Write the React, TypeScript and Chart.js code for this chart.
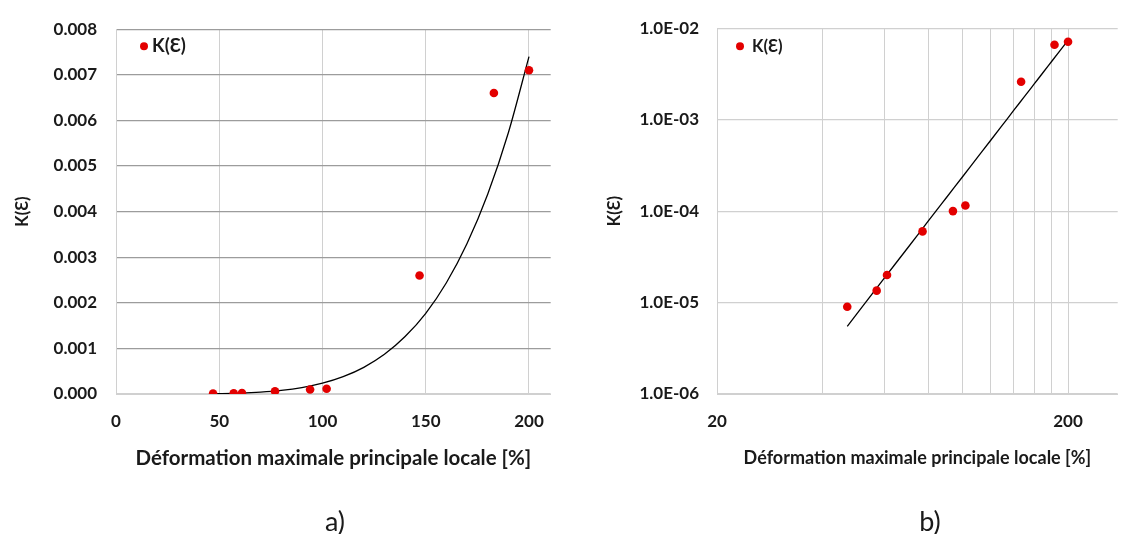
import React, { useEffect, useRef } from 'react';
import { Chart, registerables } from 'chart.js';

Chart.register(...registerables);

// ---- data ----
const deformation = [47, 57, 61, 77, 94, 102, 147, 183, 200];
const kValues = [9.0e-6, 1.35e-5, 2.0e-5, 6.0e-5, 1.0e-4, 1.15e-4, 2.6e-3, 6.6e-3, 7.1e-3];

// power-law trend line
const trendDeformation = [47, 60, 70, 80, 90, 100, 110, 120, 130, 140, 150, 160, 170, 180, 190, 200];
const trendK = [5.5e-6, 1.86e-5, 4.0e-5, 7.8e-5, 1.4e-4, 2.36e-4, 3.79e-4, 5.84e-4, 8.7e-4, 1.26e-3, 1.77e-3, 2.44e-3, 3.3e-3, 4.38e-3, 5.73e-3, 7.4e-3];

const seriesLabel = 'K(Ɛ)';
const yTitleText = 'K(Ɛ)';
const xTitleText = 'Déformation maximale principale locale [%]';

const linearXTicks = [0, 50, 100, 150, 200];
const linearYTicks = [0, 0.001, 0.002, 0.003, 0.004, 0.005, 0.006, 0.007, 0.008];
const logXGrid = [20, 40, 60, 80, 100, 120, 140, 160, 180, 200];
const logXLabels = [20, 200];
const logYTicks = [1e-6, 1e-5, 1e-4, 1e-3, 1e-2];
const panelLabels = ['a)', 'b)'];

const FONT = 'Lato, "Open Sans", "Noto Sans", sans-serif';
const TEXT = '#1a1a1a';
const RED = '#e30000';
const LIGHT = '#d0d0d0';
const DARK = '#9c9c9c';

Chart.defaults.font.family = FONT;

function insideLegend(dotDx: number, dotDy: number, textDx: number, size: number) {
  return {
    id: 'insideLegend',
    afterDraw(chart: any) {
      const ds = chart.data.datasets[0];
      const { ctx, chartArea } = chart;
      ctx.save();
      ctx.fillStyle = ds.pointBackgroundColor;
      ctx.beginPath();
      ctx.arc(chartArea.left + dotDx, chartArea.top + dotDy, 4, 0, Math.PI * 2);
      ctx.fill();
      ctx.fillStyle = TEXT;
      ctx.font = `bold ${size}px ${FONT}`;
      ctx.textAlign = 'left';
      ctx.textBaseline = 'middle';
      ctx.fillText(ds.label, chartArea.left + textDx, chartArea.top + dotDy);
      ctx.restore();
    },
  };
}

function pointsDataset() {
  return {
    label: seriesLabel,
    data: deformation.map((x, i) => ({ x, y: kValues[i] })),
    showLine: false,
    pointRadius: 4.3,
    pointBackgroundColor: RED,
    pointBorderWidth: 0,
    pointBorderColor: RED,
  };
}

function trendDataset() {
  return {
    label: 'trend',
    data: trendDeformation.map((x, i) => ({ x, y: trendK[i] })),
    showLine: true,
    pointRadius: 0,
    borderColor: '#000000',
    borderWidth: 1.3,
    tension: 0.4,
    cubicInterpolationMode: 'monotone',
  };
}

function linearConfig(): any {
  return {
    type: 'scatter',
    data: { datasets: [pointsDataset(), trendDataset()] },
    plugins: [insideLegend(28, 17, 36, 18.5)],
    options: {
      responsive: false,
      animation: false,
      events: [],
      layout: { padding: { left: 0, top: 24, right: 3, bottom: 0 } },
      plugins: { legend: { display: false }, tooltip: { enabled: false }, title: { display: false } },
      scales: {
        x: {
          type: 'linear',
          min: 0,
          max: 210.5,
          afterBuildTicks: (s: any) => { s.ticks = linearXTicks.map((v) => ({ value: v })); },
          afterFit: (s: any) => { s.height = 140; },
          grid: { color: LIGHT, lineWidth: 1, drawTicks: false },
          border: { color: LIGHT, width: 1 },
          ticks: { autoSkip: false, maxRotation: 0, padding: 17, color: TEXT, font: { size: 17, weight: 'bold' }, callback: (v: any) => String(v) },
          title: { display: true, text: xTitleText, color: TEXT, font: { size: 20.5, weight: 'bold' }, padding: { top: 0, bottom: 63 } },
        },
        y: {
          type: 'linear',
          min: 0,
          max: 0.008,
          afterBuildTicks: (s: any) => { s.ticks = linearYTicks.map((v) => ({ value: v })); },
          afterFit: (s: any) => { s.width = 116; },
          grid: { color: (c: any) => (c.tick && c.tick.value === 0 ? LIGHT : DARK), lineWidth: 1.3, drawTicks: false },
          border: { color: LIGHT, width: 1 },
          ticks: { autoSkip: false, padding: 19, color: TEXT, font: { size: 17, weight: 'bold' }, callback: (v: any) => Number(v).toFixed(3) },
          title: { display: true, text: yTitleText, color: TEXT, font: { size: 16.5, weight: 'bold' }, padding: { top: 13, bottom: 0 } },
        },
      },
    },
  };
}

function sci(v: number): string {
  const e = Math.round(Math.log10(v));
  const m = v / Math.pow(10, e);
  const sign = e < 0 ? '-' : '+';
  const a = Math.abs(e);
  return `${m.toFixed(1)}E${sign}${a < 10 ? '0' + a : a}`;
}

function logConfig(): any {
  return {
    type: 'scatter',
    data: { datasets: [pointsDataset(), trendDataset()] },
    plugins: [insideLegend(23, 18, 35, 16.7)],
    options: {
      responsive: false,
      animation: false,
      events: [],
      layout: { padding: { left: 0, top: 28, right: 0, bottom: 0 } },
      plugins: { legend: { display: false }, tooltip: { enabled: false }, title: { display: false } },
      scales: {
        x: {
          type: 'logarithmic',
          min: 20,
          max: 277,
          afterBuildTicks: (s: any) => { s.ticks = logXGrid.map((v) => ({ value: v })); },
          afterFit: (s: any) => { s.height = 140; },
          grid: { color: LIGHT, lineWidth: 1, drawTicks: false },
          border: { color: LIGHT, width: 1 },
          ticks: { autoSkip: false, maxRotation: 0, padding: 17, color: TEXT, font: { size: 17, weight: 'bold' }, callback: (v: any) => (logXLabels.includes(Number(v)) ? String(v) : '') },
          title: { display: true, text: xTitleText, color: TEXT, font: { size: 18, weight: 'bold' }, padding: { top: 0, bottom: 65 } },
        },
        y: {
          type: 'logarithmic',
          min: 1e-6,
          max: 1e-2,
          afterBuildTicks: (s: any) => { s.ticks = logYTicks.map((v) => ({ value: v })); },
          afterFit: (s: any) => { s.width = 156; },
          grid: { color: LIGHT, lineWidth: 1.2, drawTicks: false },
          border: { color: LIGHT, width: 1 },
          ticks: { autoSkip: false, padding: 18, color: TEXT, font: { size: 17, weight: 'bold' }, callback: (v: any) => sci(Number(v)) },
          title: { display: true, text: yTitleText, color: TEXT, font: { size: 16.5, weight: 'bold' }, padding: { top: 44, bottom: 0 } },
        },
      },
    },
  };
}

function ChartCanvas({ left, width, build }: { left: number; width: number; build: () => any }) {
  const ref = useRef<HTMLCanvasElement | null>(null);
  useEffect(() => {
    if (!ref.current) return;
    const chart = new Chart(ref.current, build());
    return () => chart.destroy();
  }, []);
  return (
    <canvas
      ref={ref}
      width={width}
      height={534}
      style={{ position: 'absolute', left, top: 0, width, height: 534, display: 'block' }}
    />
  );
}

export default function App() {
  const labelStyle = (cx: number): React.CSSProperties => ({
    position: 'absolute',
    left: cx,
    top: 520,
    transform: 'translate(-50%, -50%)',
    font: `400 27px ${FONT}`,
    color: TEXT,
    lineHeight: 1,
    whiteSpace: 'nowrap',
  });
  return (
    <div style={{ position: 'absolute', left: 0, top: 0, width: 1122, height: 534, background: '#ffffff', overflow: 'hidden' }}>
      <ChartCanvas left={0} width={561} build={linearConfig} />
      <ChartCanvas left={561} width={561} build={logConfig} />
      <div style={labelStyle(335)}>{panelLabels[0]}</div>
      <div style={labelStyle(930)}>{panelLabels[1]}</div>
    </div>
  );
}
